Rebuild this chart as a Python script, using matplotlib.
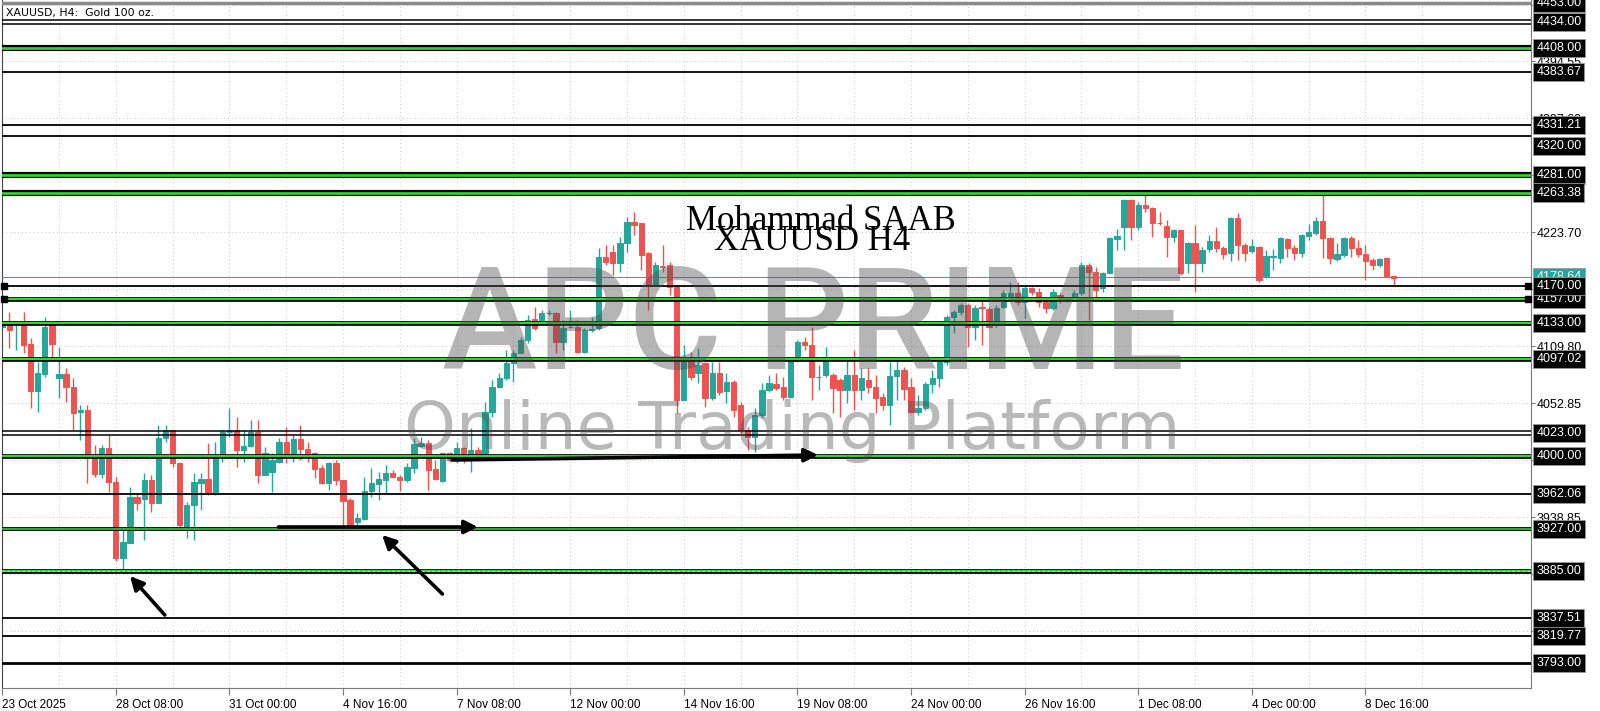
import matplotlib.pyplot as plt
from matplotlib.transforms import blended_transform_factory

# XAUUSD H4 bars (bar index 0 = 23 Oct 2025)
opens = [
    4129.3, 4134.3, 4132.0, 4132.7, 4112.0, 4065.0, 4081.7, 4131.0, 4077.7, 4081.7,
    4069.3, 4043.7, 4046.0, 4001.0, 3981.7, 4007.7, 3974.3, 3897.7, 3912.7, 3959.3,
    3957.0, 3976.0, 3952.7, 4017.7, 4026.0, 3993.3, 3927.7, 3951.0, 3972.7, 3976.7,
    3961.7, 4001.0, 4024.3, 4026.0, 4006.0, 4010.3, 4024.3, 3981.0, 3984.3, 3994.3,
    4014.3, 4002.0, 4016.7, 4006.7, 4003.3, 3987.7, 3972.7, 3992.7, 3976.0, 3956.0,
    3934.3, 3936.7, 3965.0, 3972.0, 3976.0, 3983.3, 3978.7, 3976.0, 3987.7, 4010.0,
    4012.7, 3986.7, 3975.3, 4002.7, 3996.0, 4007.7, 3999.3, 4006.0, 4001.0, 4044.3,
    4069.3, 4077.7, 4092.7, 4102.7, 4116.0, 4136.7, 4136.0, 4142.7, 4142.7, 4114.3,
    4129.0, 4129.3, 4104.3, 4126.0, 4127.7, 4199.3, 4204.3, 4192.7, 4212.7, 4234.3,
    4232.7, 4202.7, 4171.0, 4190.0, 4191.0, 4169.3, 4056.0, 4099.3, 4082.7, 4092.7,
    4057.7, 4082.7, 4065.3, 4074.3, 4051.0, 4026.0, 4019.3, 4041.0, 4066.0, 4072.0,
    4069.3, 4059.3, 4096.0, 4114.3, 4111.0, 4078.7, 4081.0, 4081.0, 4076.0, 4066.0,
    4081.0, 4066.0, 4076.0, 4069.3, 4059.3, 4051.0, 4080.0, 4086.0, 4069.3, 4044.3,
    4047.7, 4072.0, 4077.7, 4094.3, 4139.3, 4144.3, 4151.0, 4129.3, 4149.3, 4146.7,
    4131.0, 4149.3, 4159.3, 4163.3, 4154.3, 4167.7, 4164.3, 4154.3, 4147.7, 4161.0,
    4156.0, 4159.3, 4162.7, 4191.0, 4184.3, 4167.7, 4182.7, 4216.7, 4229.3, 4256.0,
    4229.3, 4251.0, 4247.7, 4233.3, 4230.0, 4219.3, 4226.0, 4192.7, 4212.7, 4193.3,
    4206.7, 4215.0, 4207.7, 4202.7, 4237.7, 4211.0, 4205.0, 4209.3, 4180.0, 4199.3,
    4197.7, 4216.7, 4208.3, 4203.3, 4220.0, 4223.3, 4235.0, 4217.7, 4196.7, 4201.0,
    4217.7, 4207.7, 4202.0, 4196.0, 4191.0, 4197.7, 4180.0,
]
highs = [
    4132.0, 4144.3, 4134.3, 4144.3, 4117.7, 4094.3, 4139.3, 4132.0, 4109.3, 4087.7,
    4077.7, 4051.0, 4051.0, 4011.0, 4011.0, 4021.0, 3979.3, 3926.0, 3969.3, 3962.7,
    3982.7, 3981.0, 4031.0, 4031.0, 4026.0, 3994.3, 3954.3, 3982.7, 3982.7, 4012.7,
    4014.3, 4026.0, 4047.7, 4039.3, 4026.0, 4036.0, 4036.0, 4009.3, 4002.7, 4017.7,
    4029.3, 4021.0, 4031.0, 4014.3, 4004.3, 3991.0, 3994.3, 3996.0, 3976.0, 3957.7,
    3942.7, 3979.3, 3987.7, 3984.3, 3991.0, 3986.0, 3981.0, 3992.7, 4017.7, 4019.3,
    4016.0, 3996.0, 4003.3, 4004.3, 4014.3, 4009.3, 4027.7, 4009.3, 4054.3, 4076.0,
    4082.7, 4106.0, 4106.0, 4119.3, 4141.0, 4149.3, 4146.0, 4146.0, 4144.3, 4136.0,
    4146.0, 4136.0, 4127.7, 4139.3, 4207.7, 4211.0, 4211.0, 4219.3, 4239.3, 4244.3,
    4232.7, 4204.3, 4194.3, 4211.0, 4194.3, 4171.0, 4111.0, 4104.3, 4107.7, 4094.3,
    4094.3, 4094.3, 4082.7, 4076.0, 4054.3, 4029.3, 4047.7, 4072.7, 4081.0, 4082.7,
    4079.3, 4099.3, 4116.0, 4119.3, 4129.3, 4091.0, 4109.3, 4082.7, 4077.7, 4096.0,
    4106.0, 4087.7, 4087.7, 4081.0, 4062.7, 4094.3, 4096.0, 4089.3, 4077.7, 4061.0,
    4074.3, 4086.0, 4097.7, 4141.0, 4146.0, 4152.7, 4152.7, 4151.0, 4159.3, 4149.3,
    4151.0, 4166.0, 4174.3, 4174.3, 4171.0, 4169.3, 4167.7, 4157.7, 4166.7, 4162.7,
    4159.3, 4166.0, 4194.3, 4192.7, 4189.3, 4184.3, 4219.3, 4226.7, 4256.7, 4256.7,
    4254.3, 4261.0, 4249.3, 4244.3, 4236.0, 4226.7, 4226.0, 4214.3, 4231.0, 4209.3,
    4221.0, 4229.3, 4210.0, 4239.3, 4242.7, 4212.7, 4216.7, 4210.0, 4206.0, 4206.7,
    4219.3, 4217.7, 4211.0, 4222.0, 4232.0, 4239.3, 4262.0, 4219.3, 4212.7, 4219.3,
    4220.0, 4216.0, 4211.0, 4197.7, 4197.7, 4198.7, 4180.0,
]
lows = [
    4128.0, 4107.7, 4106.0, 4102.7, 4047.7, 4044.3, 4079.3, 4096.0, 4057.7, 4054.3,
    4026.0, 4016.0, 3972.7, 3979.3, 3977.7, 3964.3, 3895.0, 3886.0, 3912.7, 3946.0,
    3916.0, 3944.3, 3952.7, 4014.3, 3989.3, 3929.3, 3917.7, 3916.0, 3946.0, 3961.0,
    3961.0, 3994.3, 4019.3, 3989.3, 3994.3, 4009.3, 3972.7, 3981.0, 3964.3, 3993.3,
    3993.3, 3994.3, 3996.0, 3994.3, 3977.7, 3972.0, 3966.0, 3971.0, 3931.0, 3927.7,
    3931.0, 3936.0, 3959.3, 3956.0, 3962.7, 3977.7, 3965.0, 3974.3, 3982.7, 4009.3,
    3966.0, 3976.0, 3974.3, 3994.3, 3992.7, 3992.7, 3984.3, 3999.3, 4001.0, 4039.3,
    4067.7, 4076.0, 4074.3, 4102.7, 4112.7, 4126.0, 4134.3, 4141.0, 4102.7, 4106.0,
    4127.7, 4102.7, 4102.7, 4124.3, 4126.0, 4191.0, 4181.0, 4184.3, 4204.3, 4221.0,
    4186.0, 4146.0, 4171.0, 4184.3, 4161.0, 4042.7, 4056.0, 4076.0, 4072.7, 4049.3,
    4056.0, 4061.0, 4052.7, 4039.3, 4022.7, 4006.0, 4004.3, 4037.7, 4064.3, 4066.0,
    4056.0, 4057.7, 4094.3, 4106.0, 4056.0, 4066.0, 4079.3, 4042.7, 4039.3, 4052.7,
    4046.0, 4056.0, 4062.7, 4042.7, 4046.0, 4031.0, 4056.0, 4056.0, 4042.7, 4041.0,
    4046.0, 4062.7, 4069.3, 4091.0, 4122.7, 4141.0, 4109.3, 4116.0, 4111.0, 4127.7,
    4129.3, 4147.7, 4157.7, 4151.0, 4137.7, 4161.0, 4149.3, 4142.7, 4146.0, 4152.7,
    4154.3, 4157.0, 4161.0, 4136.0, 4156.0, 4164.3, 4182.7, 4206.0, 4206.0, 4216.0,
    4226.0, 4244.3, 4219.3, 4231.0, 4199.3, 4214.3, 4181.0, 4182.7, 4164.3, 4184.3,
    4204.3, 4204.3, 4196.7, 4195.3, 4196.0, 4195.3, 4202.7, 4174.3, 4177.7, 4186.0,
    4192.7, 4198.7, 4196.0, 4199.3, 4216.0, 4221.0, 4197.7, 4192.0, 4195.3, 4198.7,
    4198.7, 4198.7, 4176.0, 4186.0, 4189.3, 4178.7, 4171.0,
]
closes = [
    4131.0, 4126.0, 4133.0, 4111.0, 4065.0, 4082.7, 4129.3, 4112.0, 4081.7, 4069.3,
    4043.3, 4046.0, 4001.0, 3981.7, 4007.7, 3973.7, 3897.7, 3914.3, 3959.3, 3952.7,
    3976.0, 3952.7, 4017.7, 4026.0, 3993.3, 3931.0, 3951.0, 3974.3, 3976.7, 3962.7,
    4001.0, 4024.3, 4026.0, 4006.0, 4010.3, 4024.3, 3981.0, 4003.3, 3996.0, 4014.3,
    4001.0, 4016.7, 4006.7, 4001.0, 3987.0, 3972.7, 3992.7, 3976.0, 3955.3, 3931.0,
    3937.7, 3965.0, 3972.7, 3977.0, 3982.7, 3979.3, 3976.0, 3988.7, 4012.0, 4012.7,
    3986.0, 3976.7, 4002.7, 3996.0, 4007.7, 3997.7, 4006.0, 4000.0, 4044.3, 4069.3,
    4077.7, 4092.7, 4102.7, 4116.0, 4136.0, 4127.7, 4142.7, 4143.0, 4114.3, 4127.7,
    4129.3, 4104.3, 4126.0, 4126.7, 4199.3, 4194.3, 4192.7, 4212.7, 4234.3, 4231.0,
    4201.0, 4171.0, 4191.0, 4188.7, 4169.3, 4056.0, 4096.0, 4079.3, 4091.0, 4057.7,
    4082.7, 4064.3, 4074.3, 4046.0, 4026.0, 4019.3, 4041.0, 4066.0, 4072.7, 4067.7,
    4058.7, 4096.0, 4114.3, 4111.0, 4079.3, 4079.3, 4099.3, 4067.7, 4066.0, 4081.0,
    4066.0, 4077.7, 4069.3, 4057.7, 4051.0, 4080.0, 4086.0, 4066.7, 4044.3, 4047.7,
    4072.0, 4077.7, 4094.3, 4139.3, 4144.3, 4151.0, 4129.3, 4147.7, 4147.7, 4129.3,
    4147.7, 4162.7, 4163.3, 4154.3, 4167.7, 4164.3, 4154.3, 4147.7, 4164.3, 4156.0,
    4157.7, 4162.7, 4191.0, 4184.3, 4166.0, 4182.7, 4217.7, 4220.0, 4256.0, 4229.3,
    4251.0, 4247.7, 4232.7, 4233.0, 4219.3, 4226.0, 4182.7, 4212.7, 4193.3, 4206.0,
    4215.0, 4207.7, 4202.0, 4237.7, 4211.0, 4203.3, 4210.0, 4176.0, 4200.0, 4199.7,
    4217.7, 4207.7, 4203.3, 4221.0, 4224.3, 4235.0, 4217.7, 4197.7, 4202.0, 4217.7,
    4207.7, 4202.0, 4195.3, 4191.0, 4196.7, 4179.3, 4177.7,
]

# date labels, one every 16 bars
x_labels = ["23 Oct 2025", "28 Oct 08:00", "31 Oct 00:00", "4 Nov 16:00", "7 Nov 08:00",
            "12 Nov 00:00", "14 Nov 16:00", "19 Nov 08:00", "24 Nov 00:00", "26 Nov 16:00",
            "1 Dec 08:00", "4 Dec 00:00", "8 Dec 16:00"]
y_ticks = [4451.50, 4394.55, 4337.60, 4280.65, 4223.70, 4166.75, 4109.80, 4052.85,
           3995.90, 3938.85, 3881.90, 3824.95]

# drawn horizontal levels
green_levels = [4408.00, 4281.00, 4263.38, 4157.00, 4133.00, 4097.02, 4000.00, 3927.00, 3885.00]
black_levels = [4383.67, 4331.21, 4320.00, 4170.00, 3962.06, 3837.51, 3819.77, 3793.00]
double_levels = [4434.00, 4023.00]
top_level = 4453.00
bid_price = 4178.64

# trend arrows (bar index, price): tail -> head
arrows = [
    ((63.4, 3996.0), (114.9, 4001.0)),
    ((38.9, 3929.0), (67.0, 3929.0)),
    ((22.9, 3841.0), (18.0, 3880.0)),
    ((62.0, 3862.0), (53.5, 3921.0)),
]

UP = '#26a69a'
DOWN = '#ef5350'
AXFONT = 'Liberation Sans'

fig = plt.figure(figsize=(16, 7.11), dpi=100)
ax = fig.add_axes([2 / 1600, 23 / 711, 1529 / 1600, 688 / 711])
x0 = -0.03
ax.set_xlim(x0, x0 + 1529 / 7.1)
ax.set_ylim(3768, 4456)

# candles
idx = list(range(len(opens)))
cols = [UP if c >= o else DOWN for o, c in zip(opens, closes)]
ax.vlines(idx, lows, highs, colors=cols, lw=1.0, zorder=2)
ax.bar(idx, [c - o for o, c in zip(opens, closes)], bottom=opens, width=0.74,
       color=cols, edgecolor=cols, linewidth=0.7, zorder=2.1)

# level lines
wide = {4408.00: 1.3, 4281.00: 1.3, 4263.38: 1.3, 3927.00: 0.8}
for lv in green_levels:
    k = wide.get(lv, 1.0)
    ax.axhline(lv, color='black', lw=3.4 * k, zorder=3)
    ax.axhline(lv, color='#2bd82b', lw=1.5 * k, zorder=3.1)
ax.axhline(3885.00, color='#d8ffd0', lw=0.6, ls=(0, (3, 3)), zorder=3.2)
for lv in black_levels:
    ax.axhline(lv, color='black', lw=2.0 if lv == 3793.00 else 1.3, zorder=3)
for lv in double_levels:
    ax.axhline(lv + 1.6, color='black', lw=1.1, zorder=3)
    ax.axhline(lv - 1.6, color='black', lw=1.1, zorder=3)
ax.axhline(top_level, color='#8a8a8a', lw=2.5, zorder=3)
ax.axhline(bid_price, color=UP, lw=0.7, zorder=3)

# selected-line handles at both ends
for lv in (4170.00, 4157.00):
    ax.plot([x0 + 0.35, x0 + 1529 / 7.1 - 0.4], [lv, lv], ls='none', marker='s',
            ms=4.5, color='black', zorder=4, clip_on=False)

for (tx, ty), (hx, hy) in arrows:
    ax.annotate('', xy=(hx, hy), xytext=(tx, ty), zorder=5,
                arrowprops=dict(arrowstyle='-|>', color='black', lw=2.6,
                                mutation_scale=20, shrinkA=0, shrinkB=0))

# watermark and titles
ax.text(114.3, 4087, 'APC PRIME', ha='center', va='baseline', fontsize=103,
        family='Roboto', weight='medium', color='#505050', alpha=0.42, zorder=6)
ax.text(111.3, 4007, 'Online Trading Platform', ha='center', va='baseline', fontsize=47.5,
        family='DejaVu Sans', color='#505050', alpha=0.4, zorder=6)
ax.text(115.3, 4226, 'Mohammad SAAB', ha='center', va='baseline', fontsize=25,
        family='Liberation Serif', color='black', zorder=7)
ax.text(114.0, 4206, 'XAUUSD H4', ha='center', va='baseline', fontsize=25,
        family='Liberation Serif', color='black', zorder=7)
fig.text(6 / 1600, 1 - 13 / 711, 'XAUUSD, H4:  Gold 100 oz.', ha='left', va='center',
         fontsize=7.8, family='DejaVu Sans', color='black')

# axes look
ax.spines['top'].set_visible(False)
ax.spines['left'].set_color('#444444')
ax.spines['right'].set_color('#7a7a7a')
ax.spines['bottom'].set_color('#7a7a7a')

ax.set_xticks(list(range(0, 16 * len(x_labels), 16)))
ax.set_xticklabels(x_labels, fontsize=8.5, family=AXFONT)
for lbl in ax.get_xticklabels():
    lbl.set_horizontalalignment('left')
ax.set_xticks(list(range(8, 216, 16)), minor=True)
ax.tick_params(axis='x', which='major', length=5, color='#7a7a7a', pad=3)
ax.tick_params(axis='x', which='minor', length=0)

ax.yaxis.tick_right()
ax.set_yticks(y_ticks)
ax.set_yticklabels([f'{v:.2f}' for v in y_ticks], fontsize=9, family=AXFONT)
ax.tick_params(axis='y', length=3, color='#7a7a7a', pad=1)

ax.set_axisbelow(True)
ax.grid(True, axis='x', which='both', ls=(0, (1, 3)), color='#c8c8c8', lw=0.7)
ax.grid(True, axis='y', ls=(0, (1, 3)), color='#c8c8c8', lw=0.7)

# price boxes on the right scale
trans = blended_transform_factory(ax.transAxes, ax.transData)
box_pos = {4320.00: 4310.0}


def price_box(y, text, fc, z):
    ax.text(1.0035, y, text, transform=trans, ha='left', va='center', fontsize=9,
            family=AXFONT, color='white', zorder=z, clip_on=False,
            bbox=dict(boxstyle='square,pad=0.25', fc=fc, ec='#9a9a9a', lw=0.6))


price_box(bid_price, f'{bid_price:.2f}', UP, 8)
for lv in [top_level] + double_levels + green_levels + black_levels:
    price_box(box_pos.get(lv, lv), f'{lv:.2f}', 'black', 9)

fig.savefig('out.png', dpi=100)
